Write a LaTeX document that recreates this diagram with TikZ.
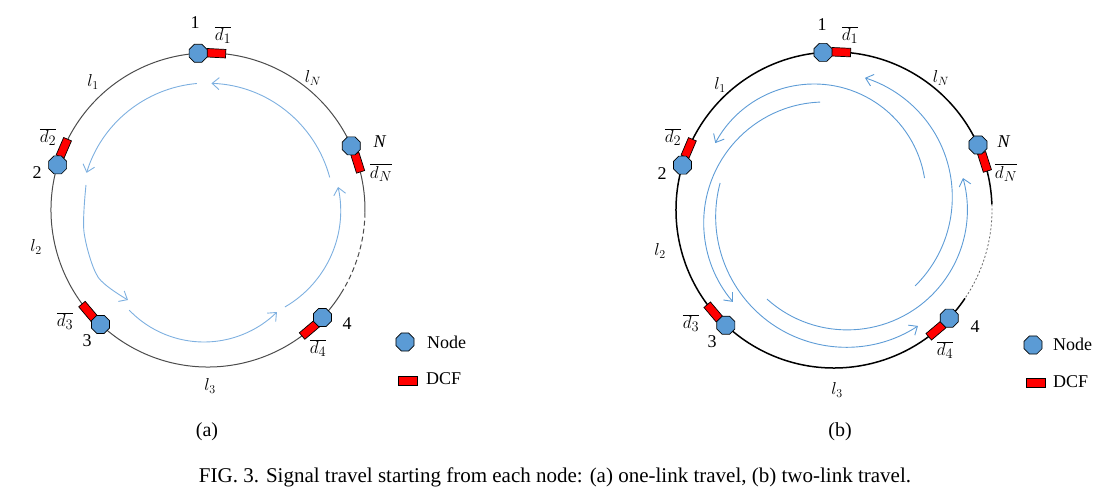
\documentclass[tikz,border=0pt]{standalone}
\usepackage{fontspec}
\setmainfont{Liberation Serif}
\usetikzlibrary{arrows.meta,shapes.geometric,calc}

\definecolor{nodeblue}{HTML}{5B9BD5}
\definecolor{siglight}{HTML}{7EB0E0}
\definecolor{sigblue}{HTML}{5E9CD6}
\definecolor{dcfred}{HTML}{FF0000}

\tikzset{
  ringnode/.style={regular polygon,regular polygon sides=8,minimum size=19.5pt,inner sep=0pt,
    fill=nodeblue,draw=black,line width=0.7pt},
  dcf/.style={rectangle,minimum width=19pt,minimum height=8.5pt,inner sep=0pt,
    fill=dcfred,draw=black,line width=0.7pt},
  ringa/.style={draw=black!70,line width=1pt},
  ringb/.style={draw=black,line width=1.5pt},
  siga/.style={draw=siglight,line width=0.9pt,-{Straight Barb[length=7pt,width=12pt]}},
  sigb/.style={draw=sigblue,line width=0.9pt,-{Straight Barb[length=7pt,width=12pt]}},
  lbl/.style={font=\fontsize{18}{21}\selectfont,inner sep=0pt},
  dlbl/.style={font=\fontsize{19}{22}\selectfont,inner sep=0pt},
  llbl/.style={font=\fontsize{17}{20}\selectfont,inner sep=0pt},
  leg/.style={font=\fontsize{18}{21}\selectfont,inner sep=0pt,anchor=west},
}

\begin{document}
\begin{tikzpicture}[x=1pt,y=-1pt]
\useasboundingbox (0,0) rectangle (1112,502);
\coordinate (ca) at (208,210);
\coordinate (cb) at (834,210);

% ring (a)
\draw[ringa] ($(ca)+(32:157)$) arc[start angle=32,end angle=361,radius=157];
\draw[ringa,dash pattern=on 5pt off 3pt] ($(ca)+(1:157)$) arc[start angle=1,end angle=32,radius=157];
\foreach \k/\ang in {1/-93.6,2/-163.3,3/133.2,4/43.2,N/-24.1}{
  \pgfmathsetmacro{\dang}{\ang+6.6}
  \pgfmathsetmacro{\drot}{0-(\ang)-96.6}
  \node[dcf,rotate=\drot] (ad\k) at ($(ca)+(\dang:157)$) {};
  \node[ringnode] (an\k) at ($(ca)+(\ang:157)$) {};
}

% ring (b)
\draw[ringb] ($(cb)+(34:158)$) arc[start angle=34,end angle=358,radius=158];
\draw[black!60,line width=0.8pt,dash pattern=on 2pt off 2pt] ($(cb)+(-2:158)$) arc[start angle=-2,end angle=34,radius=158];
\foreach \k/\ang in {1/-94,2/-163.5,3/133.2,4/43.2,N/-24.3}{
  \pgfmathsetmacro{\dang}{\ang+6.6}
  \pgfmathsetmacro{\drot}{0-(\ang)-96.6}
  \node[dcf,rotate=\drot] (bd\k) at ($(cb)+(\dang:158)$) {};
  \node[ringnode] (bn\k) at ($(cb)+(\ang:158)$) {};
}

% labels (a)
\node[lbl] (al1) at (195,23) {1};
\node[lbl] (al2) at (37,173) {2};
\node[lbl] (al3) at (87,341) {3};
\node[lbl] (al4) at (347,324) {4};
\node[lbl] (alN) at (380,142) {\textit{N}};
\node[dlbl] (ald1) at (223,35) {$\overline{d_1}$};
\node[dlbl] (ald2) at (48,137) {$\overline{d_2}$};
\node[dlbl] (ald3) at (65,321) {$\overline{d_3}$};
\node[dlbl] (ald4) at (318,348) {$\overline{d_4}$};
\node[dlbl] (aldN) at (381,173) {$\overline{d_N}$};
\node[llbl] (all1) at (93,82) {$l_1$};
\node[llbl] (all2) at (36,247) {$l_2$};
\node[llbl] (all3) at (210,386) {$l_3$};
\node[llbl] (allN) at (313,78) {$l_N$};
\node[font=\fontsize{20}{23}\selectfont] (acap) at (207,432) {(a)};

% labels (b)
\node[lbl] (bl1) at (822,25) {1};
\node[lbl] (bl2) at (662,174) {2};
\node[lbl] (bl3) at (712,342) {3};
\node[lbl] (bl4) at (975,327) {4};
\node[lbl] (blN) at (1004,142) {\textit{N}};
\node[dlbl] (bld1) at (850,35) {$\overline{d_1}$};
\node[dlbl] (bld2) at (673,137) {$\overline{d_2}$};
\node[dlbl] (bld3) at (691,323) {$\overline{d_3}$};
\node[dlbl] (bld4) at (945,350) {$\overline{d_4}$};
\node[dlbl] (bldN) at (1006,173) {$\overline{d_N}$};
\node[llbl] (bll1) at (720,85) {$l_1$};
\node[llbl] (bll2) at (660,251) {$l_2$};
\node[llbl] (bll3) at (837,390) {$l_3$};
\node[llbl] (bllN) at (941,78) {$l_N$};
\node[font=\fontsize{20}{23}\selectfont] (bcap) at (840,432) {(b)};

% one-link travel
\draw[siga] ($(ca)+(-95:127)$) arc[start angle=-95,end angle=-163,radius=127];
\draw[siga] plot[smooth] coordinates {(86,185) (84,232) (98,277) (128,300)};
\draw[siga] ($(204,238.3)+(136.1:103.7)$) arc[start angle=136.1,end angle=45.3,radius=103.7];
\draw[siga] ($(229.2,210.5)+(60:111.4)$) arc[start angle=60,end angle=-12.2,radius=111.4];
\draw[siga] ($(ca)+(-15:126)$) arc[start angle=-15,end angle=-88,radius=127];

% two-link travel
\draw[sigb] ($(827.4,197)+(45.4:124.9)$) arc[start angle=45.4,end angle=-72.5,radius=124.9];
\draw[sigb] ($(814,196)+(-9.2:112)$) arc[start angle=-9.2,end angle=-151.8,radius=112];
\draw[sigb] ($(824.7,223)+(-92.2:121)$) arc[start angle=-92.2,end angle=-220.7,radius=121];
\draw[sigb] ($(846.4,216.6)+(-165.1:130.7)$) arc[start angle=-165.1,end angle=-303.2,radius=130.7];
\draw[sigb] ($(847.3,209.9)+(132:120)$) arc[start angle=132,end angle=-15.4,radius=120];

% legends
\node[ringnode] (alegn) at (405,342) {};
\node[leg] (alegnt) at (427,342) {Node};
\node[dcf,minimum height=9pt] (alegd) at (408,381) {};
\node[leg] (alegdt) at (426,379) {DCF};
\node[ringnode] (blegn) at (1033,345) {};
\node[leg] (blegnt) at (1053,344) {Node};
\node[dcf,minimum height=9pt] (blegd) at (1036,383) {};
\node[leg] (blegdt) at (1053,382) {DCF};

\node[font=\fontsize{21}{24}\selectfont] (caption) at (555,477)
  {FIG. 3. Signal travel starting from each node: (a) one-link travel, (b) two-link travel.};
\end{tikzpicture}
\end{document}
